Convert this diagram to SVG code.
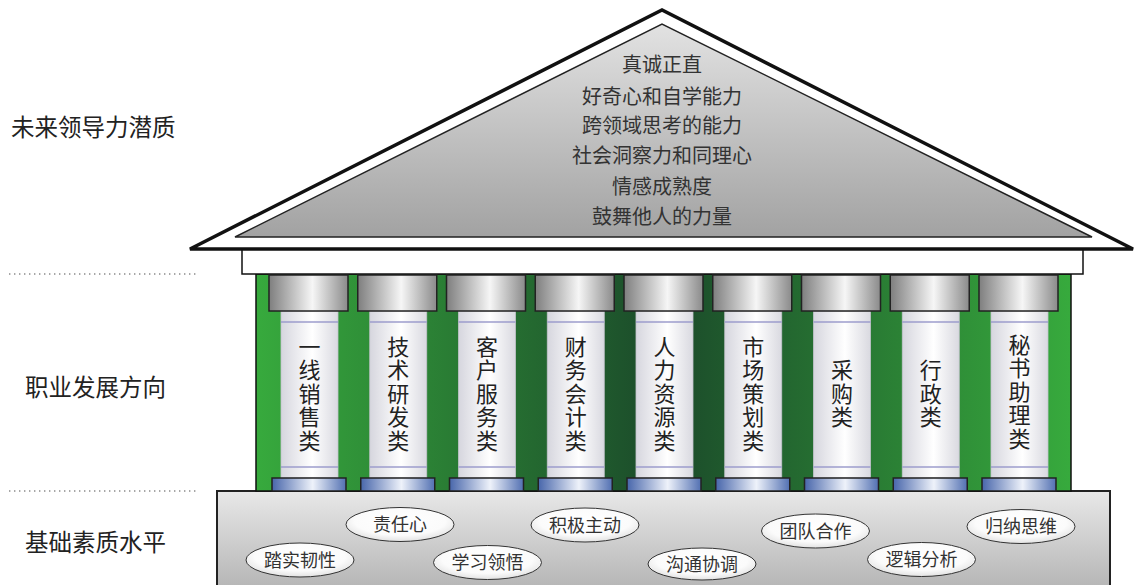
<svg xmlns="http://www.w3.org/2000/svg" width="1134" height="585" viewBox="0 0 1134 585">
  <defs>
    <linearGradient id="roofFill" x1="0" y1="0" x2="0" y2="1">
      <stop offset="0" stop-color="#e2e2e2"/>
      <stop offset="1" stop-color="#a2a2a2"/>
    </linearGradient>
    <linearGradient id="greenFill" x1="256" y1="0" x2="1071" y2="0" gradientUnits="userSpaceOnUse">
      <stop offset="0" stop-color="#37aa3d"/>
      <stop offset="0.5" stop-color="#1b4a2a"/>
      <stop offset="1" stop-color="#37aa3d"/>
    </linearGradient>
    <linearGradient id="capFill" x1="0" y1="0" x2="1" y2="0">
      <stop offset="0" stop-color="#7e7e7e"/>
      <stop offset="0.55" stop-color="#f6f6f6"/>
      <stop offset="1" stop-color="#8a8a8a"/>
    </linearGradient>
    <linearGradient id="shaftFill" x1="0" y1="0" x2="1" y2="0">
      <stop offset="0" stop-color="#d6d6de"/>
      <stop offset="0.55" stop-color="#ffffff"/>
      <stop offset="1" stop-color="#d9d9e0"/>
    </linearGradient>
    <linearGradient id="baseFill" x1="0" y1="0" x2="1" y2="0">
      <stop offset="0" stop-color="#4866ab"/>
      <stop offset="0.55" stop-color="#eef2fa"/>
      <stop offset="1" stop-color="#5270b2"/>
    </linearGradient>
    <linearGradient id="footFill" x1="0" y1="0" x2="0" y2="1">
      <stop offset="0" stop-color="#e8e8e8"/>
      <stop offset="1" stop-color="#b4b4b4"/>
    </linearGradient>
    <radialGradient id="ovalFill" cx="0.5" cy="0.4" r="0.6">
      <stop offset="0" stop-color="#ffffff"/>
      <stop offset="0.7" stop-color="#fbfbfb"/>
      <stop offset="1" stop-color="#e2e2e2"/>
    </radialGradient>
    <g id="pillar">
      <rect x="12" y="311" width="57" height="167" fill="url(#shaftFill)" stroke="#c4c4cc" stroke-width="0.8"/>
      <line x1="12" y1="322" x2="69" y2="322" stroke="#9c9ccc" stroke-width="1.5"/>
      <line x1="12" y1="467" x2="69" y2="467" stroke="#9c9ccc" stroke-width="1.5"/>
      <rect x="0" y="275" width="79" height="36" fill="url(#capFill)" stroke="#222" stroke-width="1.5"/>
      <rect x="3" y="478" width="74" height="13" fill="url(#baseFill)" stroke="#222" stroke-width="1.5"/>
    </g>
  </defs>
  <style>
    .lbl { font-family: "Noto Sans CJK SC", "Noto Sans", sans-serif; fill: #222; }
    .side { font-size: 23.5px; }
    .roofTxt { font-size: 20px; text-anchor: middle; fill: #333; }
    .col { font-size: 22px; text-anchor: middle; fill: #222; writing-mode: vertical-rl; letter-spacing: 1.5px; }
    .oval { fill: url(#ovalFill); stroke: #333; stroke-width: 1; }
    .ovalTxt { font-size: 18px; text-anchor: middle; fill: #333; }
    .dots { stroke: #8a8a8a; stroke-width: 1.6; stroke-dasharray: 1.4 3.6; }
  </style>

  <!-- level labels and dotted separators -->
  <g id="labels">
    <text class="lbl side" x="11" y="136">未来领导力潜质</text>
    <text class="lbl side" x="25" y="396">职业发展方向</text>
    <text class="lbl side" x="25" y="551">基础素质水平</text>
    <line class="dots" x1="9" y1="274" x2="198" y2="274"/>
    <line class="dots" x1="9" y1="491" x2="198" y2="491"/>
  </g>

  <!-- foundation -->
  <g id="foundation">
    <rect x="217" y="491" width="893" height="100" fill="url(#footFill)" stroke="#222" stroke-width="2"/>
  </g>

  <!-- colonnade backdrop -->
  <g id="backdrop">
    <rect x="256" y="274" width="815" height="217" fill="url(#greenFill)" stroke="#111" stroke-width="1.5"/>
  </g>

  <!-- roof -->
  <g id="roof">
    <polygon points="190,249 662,10 1133,249" fill="#ffffff" stroke="#111" stroke-width="3.5" stroke-linejoin="miter"/>
    <polygon points="235,237 662,24 1092,237" fill="url(#roofFill)" stroke="#222" stroke-width="1.5"/>
    <rect x="242" y="250" width="841" height="24" fill="#ffffff" stroke="#111" stroke-width="1.5"/>
    <text class="lbl roofTxt" x="662" y="72">真诚正直</text>
    <text class="lbl roofTxt" x="662" y="104">好奇心和自学能力</text>
    <text class="lbl roofTxt" x="662" y="133">跨领域思考的能力</text>
    <text class="lbl roofTxt" x="662" y="163">社会洞察力和同理心</text>
    <text class="lbl roofTxt" x="662" y="194">情感成熟度</text>
    <text class="lbl roofTxt" x="662" y="224">鼓舞他人的力量</text>
  </g>

  <!-- pillars: capital, shaft, base, vertical caption -->
  <g id="p1"><use href="#pillar" x="269"/><text class="lbl col" x="309.5" y="394">一线销售类</text></g>
  <g id="p2"><use href="#pillar" x="357.75"/><text class="lbl col" x="398.25" y="394">技术研发类</text></g>
  <g id="p3"><use href="#pillar" x="446.5"/><text class="lbl col" x="487" y="394">客户服务类</text></g>
  <g id="p4"><use href="#pillar" x="535.25"/><text class="lbl col" x="575.75" y="394">财务会计类</text></g>
  <g id="p5"><use href="#pillar" x="624"/><text class="lbl col" x="664.5" y="394">人力资源类</text></g>
  <g id="p6"><use href="#pillar" x="712.75"/><text class="lbl col" x="753.25" y="394">市场策划类</text></g>
  <g id="p7"><use href="#pillar" x="801.5"/><text class="lbl col" x="842" y="394">采购类</text></g>
  <g id="p8"><use href="#pillar" x="890.25"/><text class="lbl col" x="930.75" y="394">行政类</text></g>
  <g id="p9"><use href="#pillar" x="979"/><text class="lbl col" x="1019.5" y="392">秘书助理类</text></g>

  <!-- basic quality ovals -->
  <g id="q1"><ellipse class="oval" cx="300" cy="560" rx="54" ry="17"/><text class="lbl ovalTxt" x="300" y="566.5">踏实韧性</text></g>
  <g id="q2"><ellipse class="oval" cx="400" cy="524.5" rx="54" ry="17"/><text class="lbl ovalTxt" x="400" y="531">责任心</text></g>
  <g id="q3"><ellipse class="oval" cx="487.5" cy="562.5" rx="54" ry="17"/><text class="lbl ovalTxt" x="487.5" y="569">学习领悟</text></g>
  <g id="q4"><ellipse class="oval" cx="585" cy="525" rx="54" ry="17"/><text class="lbl ovalTxt" x="585" y="531.5">积极主动</text></g>
  <g id="q5"><ellipse class="oval" cx="702" cy="564" rx="54" ry="16"/><text class="lbl ovalTxt" x="702" y="570.5">沟通协调</text></g>
  <g id="q6"><ellipse class="oval" cx="815.5" cy="531" rx="54" ry="17"/><text class="lbl ovalTxt" x="815.5" y="537.5">团队合作</text></g>
  <g id="q7"><ellipse class="oval" cx="921.5" cy="559.5" rx="54" ry="17"/><text class="lbl ovalTxt" x="921.5" y="566">逻辑分析</text></g>
  <g id="q8"><ellipse class="oval" cx="1021" cy="526.5" rx="54" ry="17"/><text class="lbl ovalTxt" x="1021" y="533">归纳思维</text></g>
</svg>
